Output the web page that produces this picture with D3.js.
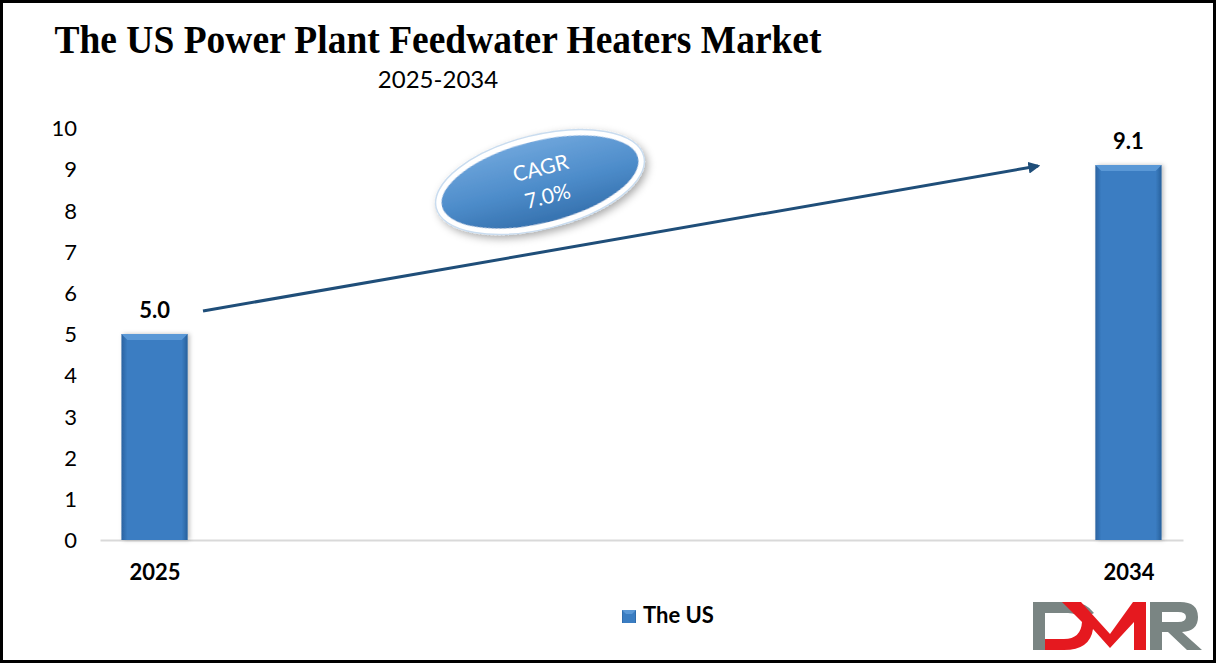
<!DOCTYPE html>
<html><head><meta charset="utf-8">
<script src="https://cdn.jsdelivr.net/npm/d3@7"></script>
<style>html,body{margin:0;padding:0;background:#fff;}svg{display:block;}</style>
</head><body>
<script>
const categories = ["2025", "2034"];
const values = [5.0, 9.1];
const valueLabels = ["5.0", "9.1"];
const yTicks = [0,1,2,3,4,5,6,7,8,9,10];
const seriesName = "The US";
const titleText = "The US Power Plant Feedwater Heaters Market";
const subtitleText = "2025-2034";
const cagrLines = ["CAGR", "7.0%"];

const W = 1216, H = 663;
const svg = d3.select("body").append("svg").attr("width", W).attr("height", H);
const defs = svg.append("defs");

// gradients
const bg = defs.append("linearGradient").attr("id","barGrad").attr("x1","0").attr("x2","1").attr("y1","0").attr("y2","0");
[["0%","#2a62a0"],["9%","#3a7dc2"],["91%","#3a7dc2"],["100%","#27609c"]].forEach(s=>bg.append("stop").attr("offset",s[0]).attr("stop-color",s[1]));
const eg = defs.append("linearGradient").attr("id","ellGrad").attr("x1","0").attr("x2","0").attr("y1","0").attr("y2","1");
[["0%","#6fa6dc"],["55%","#4d8cca"],["100%","#3470ad"]].forEach(s=>eg.append("stop").attr("offset",s[0]).attr("stop-color",s[1]));
const f = defs.append("filter").attr("id","shadow").attr("x","-20%").attr("y","-20%").attr("width","140%").attr("height","150%");
f.append("feDropShadow").attr("dx",2).attr("dy",4).attr("stdDeviation",4).attr("flood-color","#000").attr("flood-opacity",0.35);
const fb = defs.append("filter").attr("id","barShadow").attr("x","-20%").attr("y","-5%").attr("width","140%").attr("height","110%");
fb.append("feDropShadow").attr("dx",2).attr("dy",0).attr("stdDeviation",2).attr("flood-color","#000").attr("flood-opacity",0.25);
defs.append("marker").attr("id","arrow").attr("viewBox","0 0 10 10").attr("refX",8).attr("refY",5)
  .attr("markerWidth",4).attr("markerHeight",4).attr("orient","auto")
  .append("path").attr("d","M0,0 L10,5 L0,10 Z").attr("fill","#1f4e79");

// border
svg.append("rect").attr("x",1.5).attr("y",1.5).attr("width",W-3).attr("height",H-3)
  .attr("fill","none").attr("stroke","#000").attr("stroke-width",3);

// title
svg.append("text").attr("x",438).attr("y",53).attr("text-anchor","middle")
  .attr("font-family","'Liberation Serif','Times New Roman',serif").attr("font-weight","bold")
  .attr("font-size",41).attr("textLength",767).attr("lengthAdjust","spacingAndGlyphs")
  .attr("fill","#000").text(titleText);
svg.append("text").attr("x",438).attr("y",88).attr("text-anchor","middle")
  .attr("font-family","Lato,'Open Sans',sans-serif").attr("font-size",24)
  .attr("fill","#000").text(subtitleText);

// scales
const x = d3.scalePoint().domain(categories).range([100,1183]).padding(0.056);
const y = d3.scaleLinear().domain([0,10]).range([540,128]);
const barW = x.step()*0.068;

// y axis
const yAxis = d3.axisLeft(y).tickValues(yTicks).tickSize(0).tickPadding(0).tickFormat(d3.format("d"));
const ya = svg.append("g").attr("transform","translate(77,0)").call(yAxis);
ya.select(".domain").remove();
ya.selectAll("text").attr("font-family","Lato,'Open Sans',sans-serif").attr("font-size",22).attr("fill","#000").attr("dy","0.35em");

// x axis line
const xa = d3.axisBottom(x).tickSize(0).tickPadding(0);
const xg = svg.append("g").attr("transform","translate(0,540)").call(xa);
xg.select(".domain").attr("stroke","#d9d9d9").attr("stroke-width",2);
xg.selectAll("text").attr("font-family","Lato,'Open Sans',sans-serif").attr("font-weight","bold")
  .attr("font-size",22).attr("fill","#000").attr("dy",0).attr("y",40);

// bars
const bars = svg.append("g");
categories.forEach((c,i)=>{
  const bx = x(c)-barW/2, by = y(values[i]), bh = y(0)-y(values[i]);
  bars.append("rect").attr("x",bx).attr("y",by).attr("width",barW).attr("height",bh)
    .attr("fill","url(#barGrad)").attr("filter","url(#barShadow)");
  bars.append("path").attr("d",`M${bx},${by} H${bx+barW} L${bx+barW-6},${by+6} H${bx+6} Z`).attr("fill","#5a98d6");
  bars.append("text").attr("x",x(c)).attr("y",by-16).attr("text-anchor","middle")
    .attr("font-family","Lato,'Open Sans',sans-serif").attr("font-weight","bold").attr("font-size",22)
    .attr("fill","#000").text(valueLabels[i]);
});

// arrow
svg.append("line").attr("x1",203).attr("y1",311).attr("x2",1038).attr("y2",166)
  .attr("stroke","#1f4e79").attr("stroke-width",3).attr("marker-end","url(#arrow)");

// CAGR ellipse
const eg2 = svg.append("g").attr("transform","translate(540,182) rotate(-14)");
eg2.append("ellipse").attr("rx",104).attr("ry",44).attr("fill","url(#ellGrad)")
  .attr("stroke","#fff").attr("stroke-width",6).attr("filter","url(#shadow)");
eg2.append("ellipse").attr("rx",107).attr("ry",47).attr("fill","none").attr("stroke","#c9dcef").attr("stroke-width",1.5);
cagrLines.forEach((t,i)=>{
  eg2.append("text").attr("x",4).attr("y",-6+i*29).attr("text-anchor","middle")
    .attr("font-family","Lato,'Open Sans',sans-serif").attr("font-size",21).attr("fill","#fff").text(t);
});

// legend
svg.append("rect").attr("x",622).attr("y",610).attr("width",14).attr("height",13).attr("fill","url(#barGrad)");
svg.append("path").attr("d","M622,610 H636 L632,614 H626 Z").attr("fill","#5a98d6");
svg.append("text").attr("x",643).attr("y",623).attr("font-family","Lato,'Open Sans',sans-serif")
  .attr("font-weight","bold").attr("font-size",22).attr("fill","#000").text(seriesName);

// DMR logo
const logo = svg.append("g");
logo.append("path").attr("d","M1033,602 H1070 Q1086,602 1094,613 L1082,619 Q1077,613 1068,613 H1045 V650 H1033 Z").attr("fill","#7a8583");
logo.append("path").attr("d","M1062,602 H1081 L1110,634 L1133,602 H1146 V650 H1134 V622 L1110,648 L1093,629 Q1090,650 1064,650 H1045 V639 H1064 Q1081,639 1082,622 Z").attr("fill","#e5191f");
logo.append("path").attr("fill-rule","evenodd").attr("d","M1150,602 H1180 Q1198,602 1198,617 Q1198,631 1182,632 L1202,650 H1187 L1168,632 H1162 V650 H1150 Z M1162,612 H1178 Q1186,612 1186,617 Q1186,622 1178,622 H1162 Z").attr("fill","#7a8583");
</script>
</body></html>
